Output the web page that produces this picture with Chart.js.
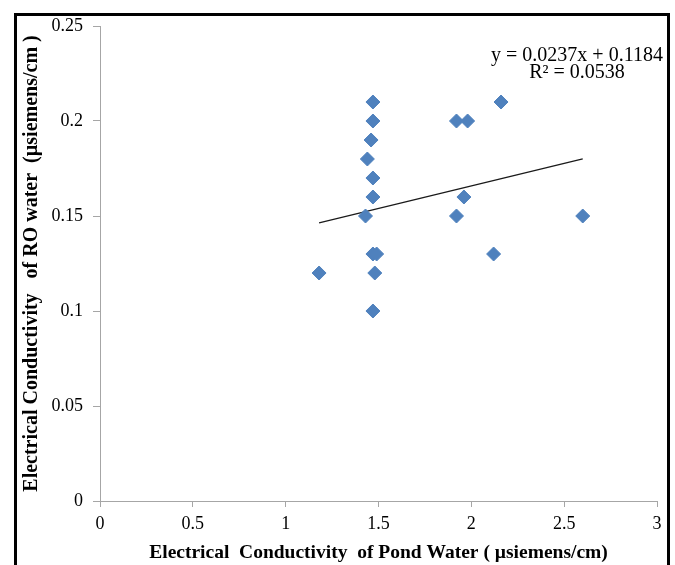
<!DOCTYPE html>
<html>
<head>
<meta charset="utf-8">
<script src="https://cdn.jsdelivr.net/npm/chart.js@4/dist/chart.umd.min.js"></script>
<style>
  html, body { margin: 0; padding: 0; background: #fff; overflow: hidden; }
  #wrap { position: relative; width: 675px; height: 565px; }
  #frame {
    position: absolute; left: 14px; top: 13px; width: 656px; height: 600px;
    border: 3px solid #000; box-sizing: border-box;
  }
  #scatter { position: absolute; left: 0; top: 0; }
</style>
</head>
<body>
<div id="wrap">
  <div id="frame"></div>
  <canvas id="scatter" width="675" height="565"></canvas>
</div>
<script>
// pond water EC (x) vs RO water EC (y)
const pondEC = [1.18, 1.47, 1.47, 1.46, 1.44, 1.47, 1.47, 1.43, 1.47, 1.49, 1.48, 1.47, 1.92, 1.98, 2.16, 1.96, 1.92, 2.12, 2.60];
const roEC   = [0.12, 0.21, 0.20, 0.19, 0.18, 0.17, 0.16, 0.15, 0.13, 0.13, 0.12, 0.10, 0.20, 0.20, 0.21, 0.16, 0.15, 0.13, 0.15];

// linear trendline as printed on the chart
const slope = 0.0237;
const intercept = 0.1184;
const trendX = [1.18, 2.60];
const eqLines = ['y = 0.0237x + 0.1184', 'R\u00B2 = 0.0538'];

const xTicks = [0, 0.5, 1, 1.5, 2, 2.5, 3];
const yTicks = [0, 0.05, 0.1, 0.15, 0.2, 0.25];

const axisGray = '#a6a6a6';
const serif = "'Liberation Serif', 'Times New Roman', serif";

const points = pondEC.map((x, i) => ({ x: x, y: roEC[i] }));
const trend = trendX.map(x => ({ x: x, y: slope * x + intercept }));

const equationLabel = {
  id: 'equationLabel',
  afterDraw(chart) {
    const ctx = chart.ctx;
    ctx.save();
    ctx.fillStyle = '#000';
    ctx.font = '20px ' + serif;
    ctx.textAlign = 'center';
    ctx.textBaseline = 'alphabetic';
    ctx.fillText(eqLines[0], 577, 61);
    ctx.fillText(eqLines[1], 577, 78);
    ctx.restore();
  }
};

const ctx = document.getElementById('scatter').getContext('2d');
new Chart(ctx, {
  type: 'scatter',
  data: {
    datasets: [
      {
        label: 'RO water',
        data: points,
        pointStyle: 'rectRot',
        pointRadius: 7,
        pointHoverRadius: 7,
        pointBackgroundColor: '#4f81bd',
        pointBorderColor: '#4f81bd',
        pointBorderWidth: 1
      },
      {
        label: 'Linear',
        type: 'line',
        data: trend,
        borderColor: '#1a1a1a',
        borderWidth: 1.3,
        pointRadius: 0,
        fill: false
      }
    ]
  },
  options: {
    responsive: false,
    animation: false,
    layout: { padding: { top: 26, right: 18, left: 0, bottom: 0 } },
    scales: {
      x: {
        type: 'linear',
        min: 0,
        max: 3,
        afterBuildTicks: (scale) => { scale.ticks = xTicks.map(v => ({ value: v })); },
        afterFit: (scale) => { scale.height = 64; },
        ticks: {
          color: '#000',
          font: { family: serif, size: 18 },
          padding: 6,
          maxRotation: 0,
          callback: (v) => String(v)
        },
        grid: { drawOnChartArea: false, drawTicks: true, tickLength: 6, color: axisGray },
        border: { color: axisGray },
        title: {
          display: true,
          text: 'Electrical  Conductivity  of Pond Water ( \u00B5siemens/cm)',
          color: '#000',
          font: { family: serif, size: 19.5, weight: 'bold' },
          padding: { top: 0, bottom: 0 }
        }
      },
      y: {
        type: 'linear',
        min: 0,
        max: 0.25,
        afterBuildTicks: (scale) => { scale.ticks = yTicks.map(v => ({ value: v })); },
        afterFit: (scale) => { scale.width = 100; },
        ticks: {
          color: '#000',
          font: { family: serif, size: 18 },
          padding: 10,
          callback: (v) => String(Number(v.toFixed(2)))
        },
        grid: { drawOnChartArea: false, drawTicks: true, tickLength: 7, color: axisGray },
        border: { color: axisGray },
        title: {
          display: true,
          text: 'Electrical Conductivity   of RO water  (\u00B5siemens/cm )',
          color: '#000',
          font: { family: serif, size: 20, weight: 'bold' },
          padding: { top: 20, bottom: 0 }
        }
      }
    },
    plugins: {
      legend: { display: false },
      tooltip: { enabled: false }
    }
  },
  plugins: [equationLabel]
});
</script>
</body>
</html>
